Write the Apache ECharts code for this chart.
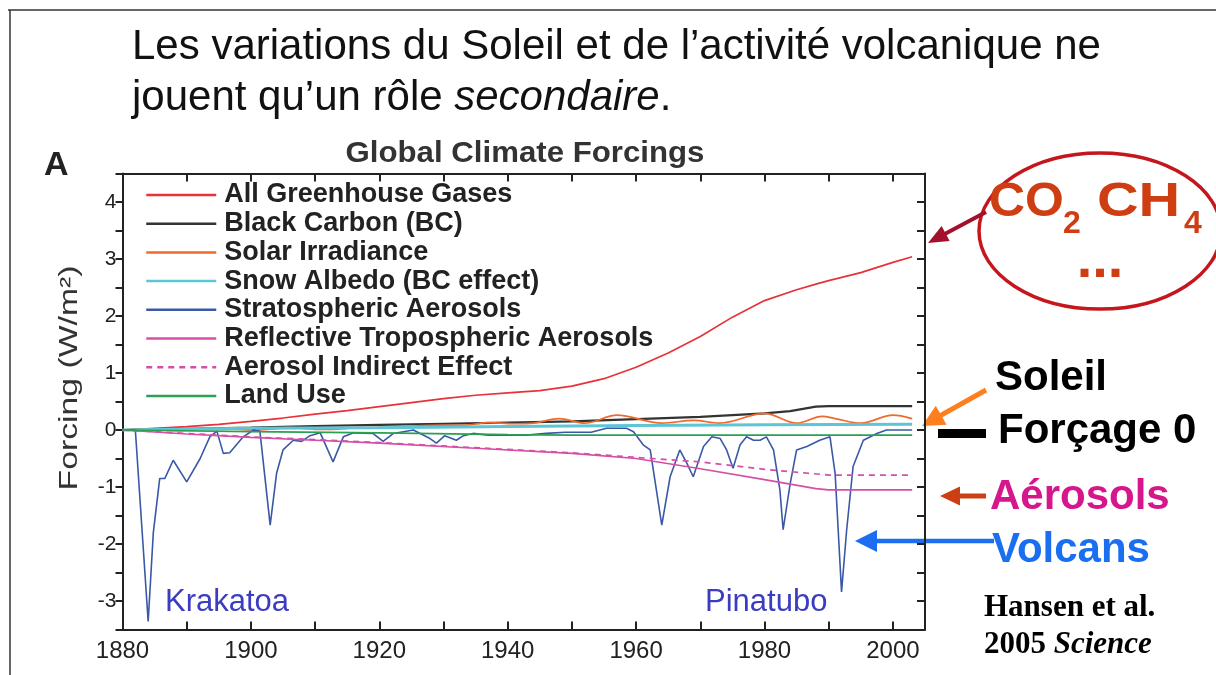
<!DOCTYPE html>
<html>
<head>
<meta charset="utf-8">
<title>Global Climate Forcings</title>
<script src="https://cdn.jsdelivr.net/npm/echarts@6/dist/echarts.min.js"></script>
<style>
  html, body { margin: 0; padding: 0; background: #ffffff; }
  #chart { width: 1216px; height: 675px; }
</style>
</head>
<body>
<div id="chart"></div>
<script>
// Climate forcings 1880-2003 (W/m2), values as [year, forcing]
const greenhouse = [[1880,0],[1885,0.03],[1890,0.06],[1895,0.1],[1900,0.15],[1905,0.21],[1910,0.28],[1915,0.34],[1920,0.41],[1925,0.48],[1930,0.55],[1935,0.61],[1940,0.65],[1945,0.69],[1950,0.77],[1955,0.9],[1960,1.1],[1965,1.35],[1970,1.64],[1975,1.98],[1980,2.27],[1985,2.46],[1988,2.56],[1990,2.62],[1995,2.76],[2000,2.94],[2003,3.04]];
const blackCarbon = [[1880,0],[1890,0.02],[1900,0.04],[1910,0.07],[1920,0.09],[1930,0.11],[1940,0.13],[1950,0.15],[1960,0.19],[1970,0.23],[1980,0.29],[1984,0.33],[1988,0.41],[1990,0.42],[2003,0.42]];
const solar = [[1880,0],[1884,0.02],[1889,-0.01],[1894,0.03],[1901,0],[1906,0.04],[1911,0.01],[1917,0.04],[1923,0.05],[1928,0.08],[1933,0.08],[1937,0.13],[1941,0.11],[1944,0.12],[1948,0.2],[1952,0.12],[1957,0.26],[1964,0.12],[1969,0.17],[1973,0.12],[1980,0.29],[1985,0.12],[1989,0.24],[1991,0.2],[1995,0.12],[2000,0.26],[2003,0.2]];
const snowAlbedo = [[1880,0],[1900,0.03],[1920,0.04],[1940,0.06],[1960,0.08],[1980,0.09],[2003,0.1]];
const stratospheric = [[1880,0],[1882,0],[1884,-3.36],[1884.8,-1.8],[1885.8,-0.85],[1886.6,-0.85],[1887.9,-0.53],[1890,-0.91],[1892.1,-0.5],[1893.6,-0.12],[1894.7,-0.02],[1895.7,-0.41],[1896.7,-0.4],[1898.8,-0.12],[1900.4,0],[1901.4,-0.02],[1903,-1.67],[1904,-0.76],[1905,-0.35],[1906.6,-0.18],[1907.9,-0.2],[1909.2,-0.1],[1910.8,-0.05],[1912.8,-0.56],[1914.4,-0.12],[1916,-0.05],[1919,-0.06],[1920.6,-0.2],[1922.2,-0.06],[1925.3,0],[1927.9,-0.15],[1928.9,-0.23],[1930.2,-0.1],[1932,-0.18],[1933.1,-0.1],[1934.6,-0.06],[1937,-0.09],[1943,-0.09],[1946,-0.06],[1949,-0.04],[1953,-0.04],[1955.4,0.03],[1958.5,0.03],[1959.6,-0.03],[1961.1,-0.26],[1962.2,-0.35],[1964,-1.67],[1965.3,-0.82],[1966.8,-0.35],[1967.9,-0.58],[1968.9,-0.82],[1970.5,-0.29],[1971.8,-0.12],[1973.1,-0.15],[1974.1,-0.35],[1975.1,-0.67],[1976.2,-0.26],[1977.2,-0.12],[1978.3,-0.18],[1979.3,-0.18],[1980.3,-0.12],[1981.4,-0.35],[1982.4,-1.05],[1982.9,-1.75],[1984,-0.94],[1985,-0.35],[1986.6,-0.29],[1988.6,-0.18],[1990.2,-0.12],[1991,-0.76],[1992,-2.84],[1992.8,-1.75],[1993.8,-0.64],[1995.4,-0.18],[1997.5,-0.06],[1999,0],[2003,0]];
const reflectiveTropo = [[1880,0],[1890,-0.07],[1900,-0.13],[1910,-0.18],[1920,-0.23],[1935,-0.32],[1950,-0.41],[1960,-0.5],[1970,-0.68],[1980,-0.87],[1988,-1.03],[1990,-1.05],[2003,-1.05]];
const aerosolIndirect = [[1880,0],[1890,-0.06],[1900,-0.12],[1910,-0.17],[1920,-0.22],[1935,-0.31],[1950,-0.4],[1960,-0.48],[1970,-0.56],[1980,-0.69],[1990,-0.79],[2003,-0.79]];
const landUse = [[1880,0],[1900,-0.03],[1920,-0.05],[1940,-0.08],[1950,-0.09],[2003,-0.09]];

const seriesNames = ['All Greenhouse Gases','Black Carbon (BC)','Solar Irradiance','Snow Albedo (BC effect)','Stratospheric Aerosols','Reflective Tropospheric Aerosols','Aerosol Indirect Effect','Land Use'];
const yearTicks = { min: 1880, max: 2005, step: 10, labelStep: 20 };
const forcingTicks = { min: -3.5, max: 4.5, step: 0.5 };

const SANS = "'Liberation Sans', Arial, Helvetica, sans-serif";
const SERIF = "'Liberation Serif', 'Times New Roman', serif";
const INK = '#222';

function lineSeries(name, data, color, width, extra) {
  return Object.assign({
    name: name, type: 'line', data: data, symbol: 'none', silent: true,
    lineStyle: { color: color, width: width }, itemStyle: { color: color }
  }, extra || {});
}

// arrow = shaft + triangular head, tip at (x2, y2)
function arrow(x1, y1, x2, y2, color, width, headLen, headW) {
  const dx = x2 - x1, dy = y2 - y1, len = Math.hypot(dx, dy);
  const ux = dx / len, uy = dy / len, px = -uy, py = ux;
  const bx = x2 - ux * headLen, by = y2 - uy * headLen;
  return [
    { type: 'line', shape: { x1: x1, y1: y1, x2: bx + ux * 2, y2: by + uy * 2 }, style: { stroke: color, lineWidth: width }, silent: true },
    { type: 'polygon', shape: { points: [[x2, y2], [bx + px * headW / 2, by + py * headW / 2], [bx - px * headW / 2, by - py * headW / 2]] }, style: { fill: color }, silent: true }
  ];
}

function label(x, y, text, font, fill, extra) {
  return Object.assign({ type: 'text', x: x, y: y, silent: true,
    style: Object.assign({ text: text, fill: fill || INK, align: 'left', verticalAlign: 'middle' }, font) }, extra || {});
}

const chart = echarts.init(document.getElementById('chart'), null, { renderer: 'canvas' });

const frameLine = { show: true, onZero: false, lineStyle: { color: INK, width: 2 } };
const tickStyle = { color: INK, width: 2 };

const option = {
  animation: false,
  backgroundColor: '#ffffff',
  grid: { left: 122.5, top: 173.5, width: 802.5, height: 456, containLabel: false },
  xAxis: [
    { type: 'value', position: 'bottom', min: yearTicks.min, max: yearTicks.max, interval: yearTicks.step,
      axisLine: frameLine, axisTick: { show: true, inside: true, length: 8, lineStyle: tickStyle },
      splitLine: { show: false },
      axisLabel: { show: true, margin: 10, fontSize: 24, color: INK, fontFamily: SANS,
        formatter: function (v) { return (v % yearTicks.labelStep === 0 && v <= 2000) ? String(v) : ''; } } },
    { type: 'value', position: 'top', min: yearTicks.min, max: yearTicks.max, interval: yearTicks.step,
      axisLine: frameLine, axisTick: { show: true, inside: true, length: 8, lineStyle: tickStyle },
      splitLine: { show: false }, axisLabel: { show: false } }
  ],
  yAxis: [
    { type: 'value', position: 'left', min: forcingTicks.min, max: forcingTicks.max, interval: forcingTicks.step,
      axisLine: frameLine, axisTick: { show: true, inside: false, length: 7, lineStyle: tickStyle },
      splitLine: { show: false },
      axisLabel: { show: true, margin: 6, fontSize: 21, color: INK, fontFamily: SANS,
        formatter: function (v) { return (Number.isInteger(v) && v > forcingTicks.min && v < forcingTicks.max) ? String(v) : ''; } } },
    { type: 'value', position: 'right', min: forcingTicks.min, max: forcingTicks.max, interval: forcingTicks.step,
      axisLine: frameLine, axisTick: { show: true, inside: true, length: 8, lineStyle: tickStyle },
      splitLine: { show: false }, axisLabel: { show: false } }
  ],
  legend: {
    orient: 'vertical', left: 145, top: 181.5, padding: 0, itemWidth: 70, itemHeight: 12, itemGap: 1.7,
    selectedMode: false, data: seriesNames,
    lineStyle: { width: 2.5 },
    itemStyle: { opacity: 0 },
    textStyle: { fontSize: 27, fontWeight: 'bold', color: INK, fontFamily: SANS, lineHeight: 27, padding: [0, 0, 0, 3] }
  },
  series: [
    lineSeries(seriesNames[0], greenhouse, '#e8323a', 1.7),
    lineSeries(seriesNames[1], blackCarbon, '#333333', 2.2),
    lineSeries(seriesNames[2], solar, '#f06a2c', 1.7, { smooth: 0.35 }),
    lineSeries(seriesNames[3], snowAlbedo, '#5cc6d6', 3),
    lineSeries(seriesNames[4], stratospheric, '#3a58a6', 1.6),
    lineSeries(seriesNames[5], reflectiveTropo, '#d64fa6', 1.7),
    lineSeries(seriesNames[6], aerosolIndirect, '#d64fa6', 1.7, { lineStyle: { color: '#d64fa6', width: 1.7, type: [6, 5] } }),
    lineSeries(seriesNames[7], landUse, '#2aa052', 1.7)
  ],
  graphic: [].concat(
    [
      // slide frame
      { type: 'line', shape: { x1: 8, y1: 10, x2: 1216, y2: 10 }, style: { stroke: '#333', lineWidth: 1.5 }, silent: true },
      { type: 'line', shape: { x1: 10, y1: 10, x2: 10, y2: 675 }, style: { stroke: '#333', lineWidth: 1.5 }, silent: true },
      // slide heading
      label(132, 47, 'Les variations du Soleil et de l\u2019activit\u00e9 volcanique ne', { fontSize: 42, fontFamily: SANS }, '#111'),
      label(132, 98, 'jouent qu\u2019un r\u00f4le {i|secondaire}.', {
        fontSize: 42, fontFamily: SANS,
        rich: { i: { fontSize: 42, fontFamily: SANS, fontStyle: 'italic', fill: '#111' } } }, '#111'),
      // panel letter and chart title
      label(44, 166, 'A', { fontSize: 34, fontWeight: 'bold', fontFamily: SANS }, INK),
      label(525, 154, 'Global Climate Forcings', { fontSize: 30, fontWeight: 'bold', fontFamily: SANS, align: 'center' }, '#333', { scaleX: 1.04 }),
      label(70, 378, 'Forcing (W/m\u00b2)', { fontSize: 25, fontFamily: SANS, align: 'center' }, '#333', { rotation: Math.PI / 2, scaleX: 1.35 }),
      // eruption names
      label(165, 602, 'Krakatoa', { fontSize: 31, fontFamily: SANS }, '#3b3cc0'),
      label(705, 602, 'Pinatubo', { fontSize: 31, fontFamily: SANS }, '#3b3cc0'),
      // greenhouse-gas callout
      { type: 'ellipse', shape: { cx: 1100, cy: 231, rx: 121, ry: 78 }, style: { fill: 'none', stroke: '#c4161c', lineWidth: 3.5 }, silent: true },
      label(989, 203, 'CO', { fontSize: 48, fontWeight: 'bold', fontFamily: SANS }, '#cf3d12', { scaleX: 1.04 }),
      label(1063, 224, '2', { fontSize: 32, fontWeight: 'bold', fontFamily: SANS }, '#cf3d12'),
      label(1097, 203, 'CH', { fontSize: 48, fontWeight: 'bold', fontFamily: SANS }, '#cf3d12', { scaleX: 1.2 }),
      label(1184, 224, '4', { fontSize: 32, fontWeight: 'bold', fontFamily: SANS }, '#cf3d12'),
      label(1100, 262, '...', { fontSize: 56, fontWeight: 'bold', fontFamily: SANS, align: 'center' }, '#cf3d12'),
      // right-hand notes
      label(995, 378, 'Soleil', { fontSize: 42, fontWeight: 'bold', fontFamily: SANS }, '#000'),
      { type: 'rect', shape: { x: 938, y: 429, width: 48, height: 9 }, style: { fill: '#000' }, silent: true },
      label(998, 431, 'For\u00e7age 0', { fontSize: 42, fontWeight: 'bold', fontFamily: SANS }, '#000'),
      label(990, 497, 'A\u00e9rosols', { fontSize: 42, fontWeight: 'bold', fontFamily: SANS }, '#d5168c'),
      label(992, 550, 'Volcans', { fontSize: 42, fontWeight: 'bold', fontFamily: SANS }, '#1a6ff0'),
      label(984, 608, 'Hansen et al.', { fontSize: 31, fontWeight: 'bold', fontFamily: SERIF }, '#000'),
      label(984, 645, '2005 {i|Science}', { fontSize: 31, fontWeight: 'bold', fontFamily: SERIF,
        rich: { i: { fontSize: 31, fontWeight: 'bold', fontStyle: 'italic', fontFamily: SERIF, fill: '#000' } } }, '#000')
    ],
    arrow(986, 212, 928, 243, '#a3102b', 4, 20, 17),
    arrow(986, 390, 922, 426, '#ff7f1e', 5, 22, 22),
    arrow(986, 496, 940, 496, '#cc3f12', 5, 20, 19),
    arrow(994, 541, 855, 541, '#1b6ef0', 4.5, 22, 22)
  )
};

chart.setOption(option);
</script>
</body>
</html>
